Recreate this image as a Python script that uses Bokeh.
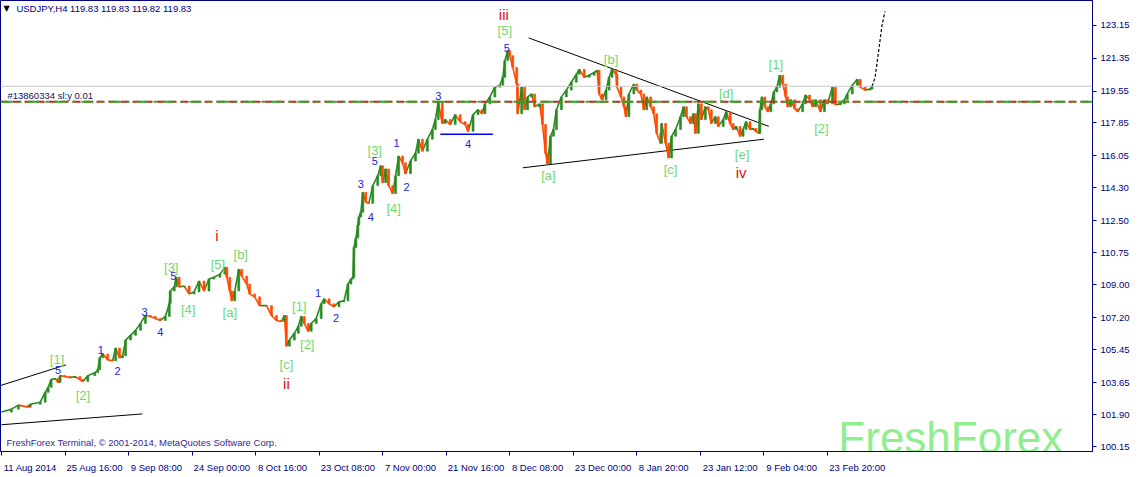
from bokeh.plotting import figure
from bokeh.models import (ColumnDataSource, FixedTicker, Span, Label, NumeralTickFormatter, Range1d,
                          LinearAxis)
from bokeh.embed import file_html
from bokeh.resources import INLINE
from bokeh.core.properties import value

# ---------------- data (bar index, close price) ----------------
bars_a = [3, 13, 20, 30, 32, 42, 47, 50, 53, 57, 60, 62, 67, 72, 77, 82, 85, 90, 97, 100,
          102, 105, 110, 115, 118, 122, 125, 128, 133, 138, 143, 148, 153, 158, 163, 168, 172, 173, 177, 179,
          182, 187, 192, 197, 202, 207, 212, 217, 223, 228]
closes_a = [102.05, 102.21, 102.43, 102.32, 102.48, 102.59, 103.13, 103.40, 103.83, 103.88,
            103.67, 104.04, 103.99, 103.93, 103.99, 103.83, 103.72, 104.04, 104.20, 104.36,
            105.01, 105.22, 104.90, 104.85, 105.55, 105.01, 105.12, 105.98, 106.24, 106.51,
            106.89, 107.32, 107.27, 107.16, 107.05, 107.27, 107.96, 108.66, 108.88, 109.41,
            108.88, 108.93, 108.50, 108.61, 109.20, 108.66, 109.31, 109.41, 109.58, 109.95]

bars_b = [230, 233, 235, 238, 242, 245, 250, 253, 258, 263, 270, 275, 280, 285, 288, 290, 293, 298, 302, 305,
          308, 312, 315, 320, 325, 328, 333, 338, 343, 348, 352, 355, 357, 358, 360, 362, 363, 365, 367, 370,
          373, 377, 382, 385, 387, 390, 393, 397, 400, 403, 407, 410, 415, 420, 423, 427, 432, 437, 440]
closes_b = [109.41, 108.66, 108.12, 108.66, 109.84, 109.47, 109.04, 108.50, 108.34, 107.86,
            107.86, 107.32, 107.05, 107.00, 107.32, 105.65, 105.98, 106.35, 106.73, 107.27,
            106.89, 106.46, 106.89, 107.16, 107.96, 108.23, 107.96, 107.80, 108.07, 108.12,
            109.04, 109.31, 109.41, 111.03, 111.56, 112.26, 112.69, 112.96, 114.04, 113.50,
            113.44, 114.41, 114.95, 115.49, 114.57, 115.32, 114.41, 113.98, 114.95, 116.02,
            115.65, 115.06, 115.75, 116.18, 116.94, 116.29, 116.94, 117.47, 118.01]

bars_c = [443, 447, 450, 455, 460, 465, 470, 473, 478, 483, 487, 490, 495, 500, 505, 508, 510, 513, 515, 518,
          522, 523, 527, 530, 533, 537, 540, 545, 548, 551, 553, 556, 559, 562, 567, 572, 577, 582, 585, 590,
          595, 600, 603, 605, 608, 612, 615, 618, 622, 623, 627, 630, 632, 635, 640, 643, 647]
closes_c = [118.98, 117.80, 118.01, 117.74, 118.28, 117.90, 117.74, 117.37, 118.28, 118.55,
            118.33, 118.87, 119.25, 119.78, 119.89, 120.32, 121.23, 121.77, 121.50, 120.86,
            119.95, 118.33, 119.78, 118.55, 119.25, 119.41, 118.71, 118.87, 117.74, 116.18,
            115.59, 117.10, 117.47, 118.55, 119.25, 119.62, 120.05, 120.48, 120.75, 120.32,
            120.43, 120.59, 120.70, 119.41, 119.09, 119.62, 120.32, 120.75, 120.48, 119.78,
            119.25, 118.71, 118.17, 119.41, 119.95, 119.62, 119.41]

bars_d = [650, 653, 657, 660, 663, 667, 668, 672, 675, 678, 682, 687, 690, 693, 697, 700, 702, 705, 708, 712,
          715, 718, 722, 725, 730, 733, 737, 740, 743, 747, 750, 753, 757, 760, 763, 766, 767, 769, 772, 775,
          778, 781, 784, 787, 790, 793, 795, 798, 802, 805, 810, 813, 817, 820, 823, 828, 832, 835, 840, 843,
          848, 852, 855, 860, 865, 868, 873, 878, 880]
closes_d = [118.55, 119.25, 118.71, 118.33, 117.26, 116.72, 117.80, 116.72, 115.92, 117.10,
            117.47, 118.17, 118.71, 118.17, 117.80, 118.33, 117.26, 118.87, 118.01, 118.71,
            118.55, 117.80, 118.17, 117.64, 118.01, 118.44, 117.80, 117.47, 117.64, 117.10,
            117.47, 117.90, 117.47, 117.53, 117.37, 117.26, 118.55, 119.25, 118.71, 118.44,
            118.87, 119.52, 119.78, 120.43, 119.95, 119.25, 118.71, 119.09, 118.60, 118.44,
            118.87, 119.35, 119.09, 118.71, 119.09, 118.44, 119.09, 118.87, 119.78, 118.82,
            118.87, 119.09, 119.41, 119.89, 120.21, 119.78, 119.62, 119.68, 119.83]

proj_bars = [880, 883, 887, 890, 893]
proj_prices = [119.83, 120.32, 121.93, 123.17, 123.92]

last_price = 119.83
order_price = 118.98

date_ticks = [3, 67, 131, 195, 259, 323, 387, 451, 515, 579, 643, 707, 771, 835]
date_labels = ["11 Aug 2014", "25 Aug 16:00", "9 Sep 08:00", "24 Sep 00:00", "8 Oct 16:00",
               "23 Oct 08:00", "7 Nov 00:00", "21 Nov 16:00", "8 Dec 08:00", "23 Dec 00:00",
               "8 Jan 20:00", "23 Jan 12:00", "9 Feb 04:00", "23 Feb 20:00"]
price_ticks = [100.15, 101.90, 103.65, 105.45, 107.20, 109.00, 110.75, 112.50, 114.30,
               116.05, 117.85, 119.55, 121.35, 123.15]

# trend lines (bar, price) -> (bar, price)
tl_x0 = [2, 3, 534, 528]
tl_y0 = [103.50, 101.36, 122.47, 115.38]
tl_x1 = [68, 145, 776, 771]
tl_y1 = [104.63, 101.95, 117.64, 116.94]
blue_x0, blue_x1, blue_y = 445, 498, 117.21

# wave labels
green_text = ["[1]", "[2]", "[3]", "[4]", "[5]", "[a]", "[b]", "[c]", "[1]", "[2]",
              "[3]", "[4]", "[5]", "[a]", "[b]", "[c]", "[d]", "[e]", "[1]", "[2]"]
green_x = [59, 85, 174, 191, 221, 233, 244, 290, 303, 311, 379, 398, 510, 554, 617, 677, 733, 749, 783, 829]
green_y = [104.90, 102.97, 109.95, 107.64, 110.11, 107.48, 110.65, 104.63, 107.80, 105.76,
           116.35, 113.18, 122.85, 114.95, 121.29, 115.27, 119.41, 116.08, 121.02, 117.53]

blue_text = ["5", "1", "2", "3", "4", "5", "1", "2", "3", "4", "5", "1", "2", "3", "4", "5"]
blue_xs = [60, 103, 120, 147, 163, 176, 322, 340, 365, 375, 379, 401, 411, 443, 473, 512]
blue_ys = [104.36, 105.44, 104.31, 107.53, 106.41, 109.47, 108.56, 107.16, 114.47, 112.69,
           115.75, 116.72, 114.36, 119.30, 116.67, 121.93]

red_text = ["i", "ii", "iii", "iv"]
red_x = [220, 290, 509, 748]
red_y = [111.67, 103.61, 123.76, 115.11]

# ---------------- figure ----------------
FONT = "Liberation Sans"
NAVY = "#000080"
FS = 9.5
FRAME_W = 1092
X0, X1 = 2, 1102

p = figure(frame_width=FRAME_W, frame_height=451, output_backend="svg", toolbar_location=None,
           x_range=Range1d(X0, X1), y_range=Range1d(99.90, 124.51),
           y_axis_location="right", min_border=0)
p.background_fill_color = "white"
p.border_fill_color = "white"
p.outline_line_color = NAVY
p.outline_line_width = 1
p.xgrid.visible = False
p.ygrid.visible = False

# bottom axis 1: axis line + tick marks only
ax = p.xaxis[0]
ax.ticker = FixedTicker(ticks=date_ticks)
ax.major_label_overrides = {t: "" for t in date_ticks}
ax.major_label_text_font_size = "0px"
ax.axis_line_color = NAVY
ax.major_tick_line_color = NAVY
ax.major_tick_out = 4
ax.major_tick_in = 0
ax.minor_tick_line_color = None
ax.major_label_standoff = 0

# bottom axis 2: labels placed to the right of each tick
ARIAL = {" ": .278, ":": .278, "0": .556, "1": .556, "2": .556, "3": .556, "4": .556, "5": .556,
         "6": .556, "7": .556, "8": .556, "9": .556, "A": .667, "S": .667, "O": .778, "N": .722,
         "D": .722, "J": .5, "F": .611, "u": .556, "g": .556, "e": .556, "p": .556, "c": .5,
         "t": .278, "o": .556, "v": .5, "a": .556, "n": .556, "b": .556}
px_per_bar = FRAME_W / (X1 - X0)
centers = [int(round(t + (sum(ARIAL.get(ch, .556) for ch in l) * FS / 2 + 2) / px_per_bar))
           for t, l in zip(date_ticks, date_labels)]
ax2 = LinearAxis(ticker=FixedTicker(ticks=centers),
                 major_label_overrides={c: l for c, l in zip(centers, date_labels)},
                 axis_line_color=None, major_tick_line_color=None, minor_tick_line_color=None,
                 major_label_standoff=0, major_label_text_font=FONT,
                 major_label_text_font_size=f"{FS}px", major_label_text_color=NAVY)
p.add_layout(ax2, "below")

ay = p.yaxis[0]
ay.ticker = FixedTicker(ticks=price_ticks)
ay.formatter = NumeralTickFormatter(format="0.00")
ay.axis_line_color = NAVY
ay.major_tick_line_color = NAVY
ay.major_tick_out = 4
ay.major_tick_in = 0
ay.minor_tick_line_color = None
ay.major_label_standoff = 4
ay.major_label_text_font = FONT
ay.major_label_text_font_size = f"{FS}px"
ay.major_label_text_color = NAVY

# price lines
p.add_layout(Span(location=last_price, dimension="width", line_color="#c8c8c8", line_width=1))
p.add_layout(Span(location=order_price, dimension="width", line_color="#d02020", line_width=2,
                  line_dash="8 4"))
p.add_layout(Span(location=order_price, dimension="width", line_color="#22b022", line_width=2,
                  line_dash="12 6 3 6"))

# trend lines
p.segment(tl_x0, tl_y0, tl_x1, tl_y1, line_color="black", line_width=1)
p.segment([blue_x0], [blue_y], [blue_x1], [blue_y], line_color="#0000ff", line_width=1.5)

# price path
bars = bars_a + bars_b + bars_c + bars_d
closes = closes_a + closes_b + closes_c + closes_d
colors = ["#2a8a22" if c1 >= c0 else "#ff4a00" for c0, c1 in zip(closes[:-1], closes[1:])]
seg = ColumnDataSource(dict(x0=bars[:-1], y0=closes[:-1], x1=bars[1:], y1=closes[1:], c=colors,
                            top=[max(a, b) for a, b in zip(closes[:-1], closes[1:])],
                            bot=[min(a, b) for a, b in zip(closes[:-1], closes[1:])]))
p.segment("x0", "y0", "x1", "y1", line_color="c", line_width=1.6, source=seg)
p.vbar(x="x1", top="top", bottom="bot", width=2, fill_color="c", line_color="c", line_width=0.6,
       source=seg)

p.line(proj_bars, proj_prices, line_color="black", line_width=1.2, line_dash="3 2")

# wave labels
p.text(green_x, green_y, text=green_text, text_color="#70d870", text_align="center",
       text_baseline="middle", text_font=value(FONT), text_font_size="13px")
p.text(blue_xs, blue_ys, text=blue_text, text_color="#2222e0", text_align="center",
       text_baseline="middle", text_font=value(FONT), text_font_size="11px")
p.text(red_x, red_y, text=red_text, text_color="#dd1111", text_align="center",
       text_baseline="middle", text_font=value(FONT), text_font_size="15px")

# header / footer texts
p.text([5], [124.08], text=["\u25bc"], text_color="black", text_align="left", text_baseline="middle",
       text_font=value("DejaVu Sans"), text_font_size="8px")
p.text([18], [124.08], text=["USDJPY,H4  119.83 119.83 119.82 119.83"], text_color=NAVY,
       text_align="left", text_baseline="middle", text_font=value(FONT), text_font_size=f"{FS}px")
p.text([9], [119.30], text=["#13860334 sl:y 0.01"], text_color="#101060", text_align="left",
       text_baseline="middle", text_font=value(FONT), text_font_size=f"{FS}px")
p.text([8], [100.39], text=["FreshForex Terminal, \u00a9 2001-2014, MetaQuotes Software Corp."],
       text_color="#3a1f8f", text_align="left", text_baseline="middle", text_font=value(FONT),
       text_font_size=f"{FS}px")
p.text([846], [100.65], text=["FreshForex"], text_color="#90ee90", text_align="left",
       text_baseline="alphabetic", text_font=value(FONT), text_font_size="44px")

# current price box on the axis
p.add_layout(Label(x=X1, y=last_price, text="119.83", x_offset=2, text_color="white",
                   background_fill_color=NAVY, text_baseline="middle", text_font=FONT,
                   text_font_size=f"{FS}px"))

open("out.html", "w").write(file_html(p, INLINE))
